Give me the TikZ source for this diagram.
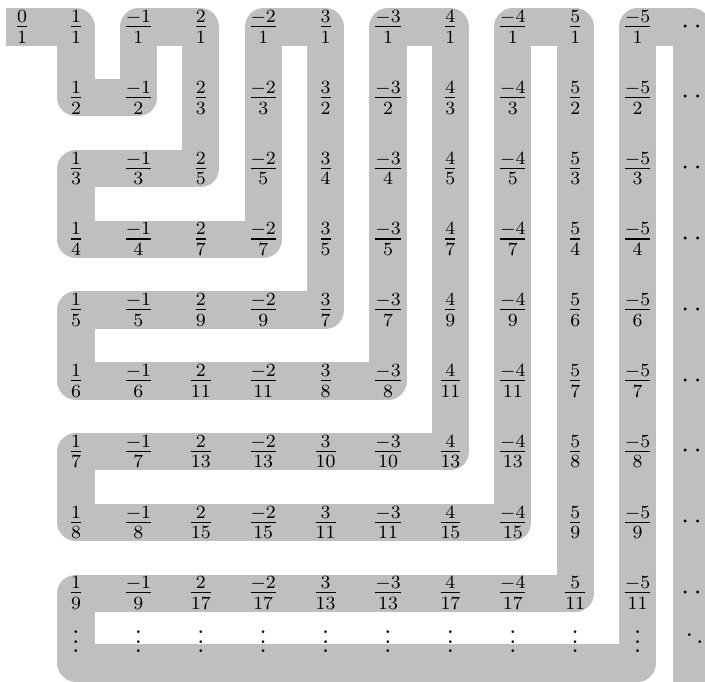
\documentclass[tikz,border=0pt]{standalone}
\usepackage{amsmath,amssymb}
\usepackage{xcolor}
\usetikzlibrary{backgrounds,positioning}

\definecolor{bandgray}{gray}{0.75}

\begin{document}
\begin{tikzpicture}[
  band/.style={draw=bandgray, line width=16pt, line join=round, line cap=butt},
  entry/.style={inner sep=3.33pt, font=\large},
  dotsv/.style={inner sep=0pt, font=\large, anchor=south}
]
\def\dx{0.9416}
\def\dy{1.068}
\useasboundingbox (-1.147,0.407) rectangle (9.491,-9.869);
% the zero in front
\node[entry] (n-0-0) at (-0.815,0) {$\frac{0}{1}$};
% p/q and -p/q, one pair of columns per numerator
\foreach \p/\qs in {1/{1,2,3,4,5,6,7,8,9}, 2/{1,3,5,7,9,11,13,15,17}, 3/{1,2,4,5,7,8,10,11,13}, 4/{1,3,5,7,9,11,13,15,17}, 5/{1,2,3,4,6,7,8,9,11}}{
  \pgfmathtruncatemacro\cpos{2*\p-1}
  \pgfmathtruncatemacro\cneg{2*\p}
  \foreach \q [count=\r from 0] in \qs {
    \node[entry] (n-\r-\cpos) at ({(\cpos-1)*\dx},{-\r*\dy}) {$\frac{\p}{\q}$};
    \node[entry] (n-\r-\cneg) at ({(\cneg-1)*\dx},{-\r*\dy}) {$\frac{-\p}{\q}$};
  }
}
% dots
\foreach \r in {0,...,8}
  \node[entry] (e-\r) at ({10*\dx},{-\r*\dy}) {$\cdots$};
\foreach \c in {1,...,10}
  \node[dotsv] (v-\c) at ({(\c-1)*\dx},-9.446) {$\vdots$};
\node[dotsv] (v-11) at ({10*\dx},-9.446) {$\ddots$};
\coordinate[below=0.15cm of v-1] (low-1);
\coordinate[below=0.15cm of v-10] (low-10);
\coordinate (tail) at ({10*\dx-0.12},-10.6);

\begin{scope}[on background layer]
\draw[band] (n-0-0.west) -- (n-0-1.center) -- (n-1-1.center) -- (n-1-2.center)
  -- (n-0-2.center) -- (n-0-3.center) -- (n-2-3.center) -- (n-2-1.center)
  -- (n-3-1.center) -- (n-3-4.center) -- (n-0-4.center) -- (n-0-5.center)
  -- (n-4-5.center) -- (n-4-1.center) -- (n-5-1.center) -- (n-5-6.center)
  -- (n-0-6.center) -- (n-0-7.center) -- (n-6-7.center) -- (n-6-1.center)
  -- (n-7-1.center) -- (n-7-8.center) -- (n-0-8.center) -- (n-0-9.center)
  -- (n-8-9.center) -- (n-8-1.center) -- (low-1) -- (low-10)
  -- (n-0-10.center) -- ([xshift=-0.12cm]e-0.center) -- (tail);
\end{scope}
\end{tikzpicture}
\end{document}
